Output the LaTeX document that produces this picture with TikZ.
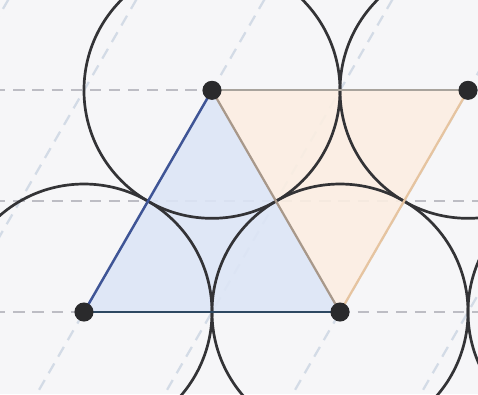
\documentclass[tikz,border=0pt]{standalone}
\usepackage{tikz}
\definecolor{paper}{HTML}{F6F6F8}
\definecolor{ringcol}{HTML}{333336}
\definecolor{dotcol}{HTML}{2A2A2C}
\definecolor{bluefill}{HTML}{DDE6F6}
\definecolor{blueedge}{HTML}{3F5596}
\definecolor{baseedge}{HTML}{2E4862}
\definecolor{orangefill}{HTML}{FCEEE2}
\definecolor{orangeedge}{HTML}{E6C4A0}
\definecolor{sharededge}{HTML}{A8988A}
\definecolor{topedge}{HTML}{A8A39C}
\definecolor{hdash}{HTML}{BDBDC4}
\definecolor{ddash}{HTML}{D3DBE6}

\begin{document}
\begin{tikzpicture}[
    x=2cm, y=2cm,
    dot/.style={
        circle,
        fill=dotcol,
        inner sep=0pt,
        minimum size=8.5pt
    },
    ring/.style={
        draw=ringcol,
        line width=1.2pt
    },
    hline/.style={
        draw=hdash,
        line width=0.8pt,
        dash pattern=on 5pt off 3.5pt
    },
    dline/.style={
        draw=ddash,
        line width=1pt,
        dash pattern=on 5pt off 3.5pt
    }
]
\useasboundingbox (-0.656,-0.641) rectangle (3.078,2.4375);
\fill[paper] (-0.656,-0.641) rectangle (3.078,2.4375);
\clip (-0.656,-0.641) rectangle (3.078,2.4375);

% lattice points
\coordinate (A) at (0,0);
\coordinate (B) at (2,0);
\coordinate (C) at (1,1.732);
\coordinate (D) at (3,1.732);
\coordinate (E) at (4,0);

% guide lines
\foreach \y in {0,0.866,1.732}
    \draw[hline] (-1,\y) -- (4,\y);
\foreach \k in {-2,...,3}
    \draw[dline] (\k-0.5,-0.866) -- (\k+1.5,2.598);

% triangles
\fill[bluefill, opacity=0.9] (A) -- (B) -- (C) -- cycle;
\fill[orangefill, opacity=0.9] (C) -- (D) -- (B) -- cycle;

% circles
\foreach \p in {A,B,C,D,E}
    \draw[ring] (\p) circle (1);

% edges
\draw[baseedge, line width=1.2pt] (A) -- (B);
\draw[blueedge, line width=1.1pt] (A) -- (C);
\draw[topedge, line width=1pt] (C) -- (D);
\draw[orangeedge, line width=1pt] (D) -- (B);
\draw[sharededge, line width=1pt] (C) -- (B);

% nodes
\node[dot] (a) at (A) {};
\node[dot] (b) at (B) {};
\node[dot] (c) at (C) {};
\node[dot] (d) at (D) {};
\end{tikzpicture}
\end{document}
